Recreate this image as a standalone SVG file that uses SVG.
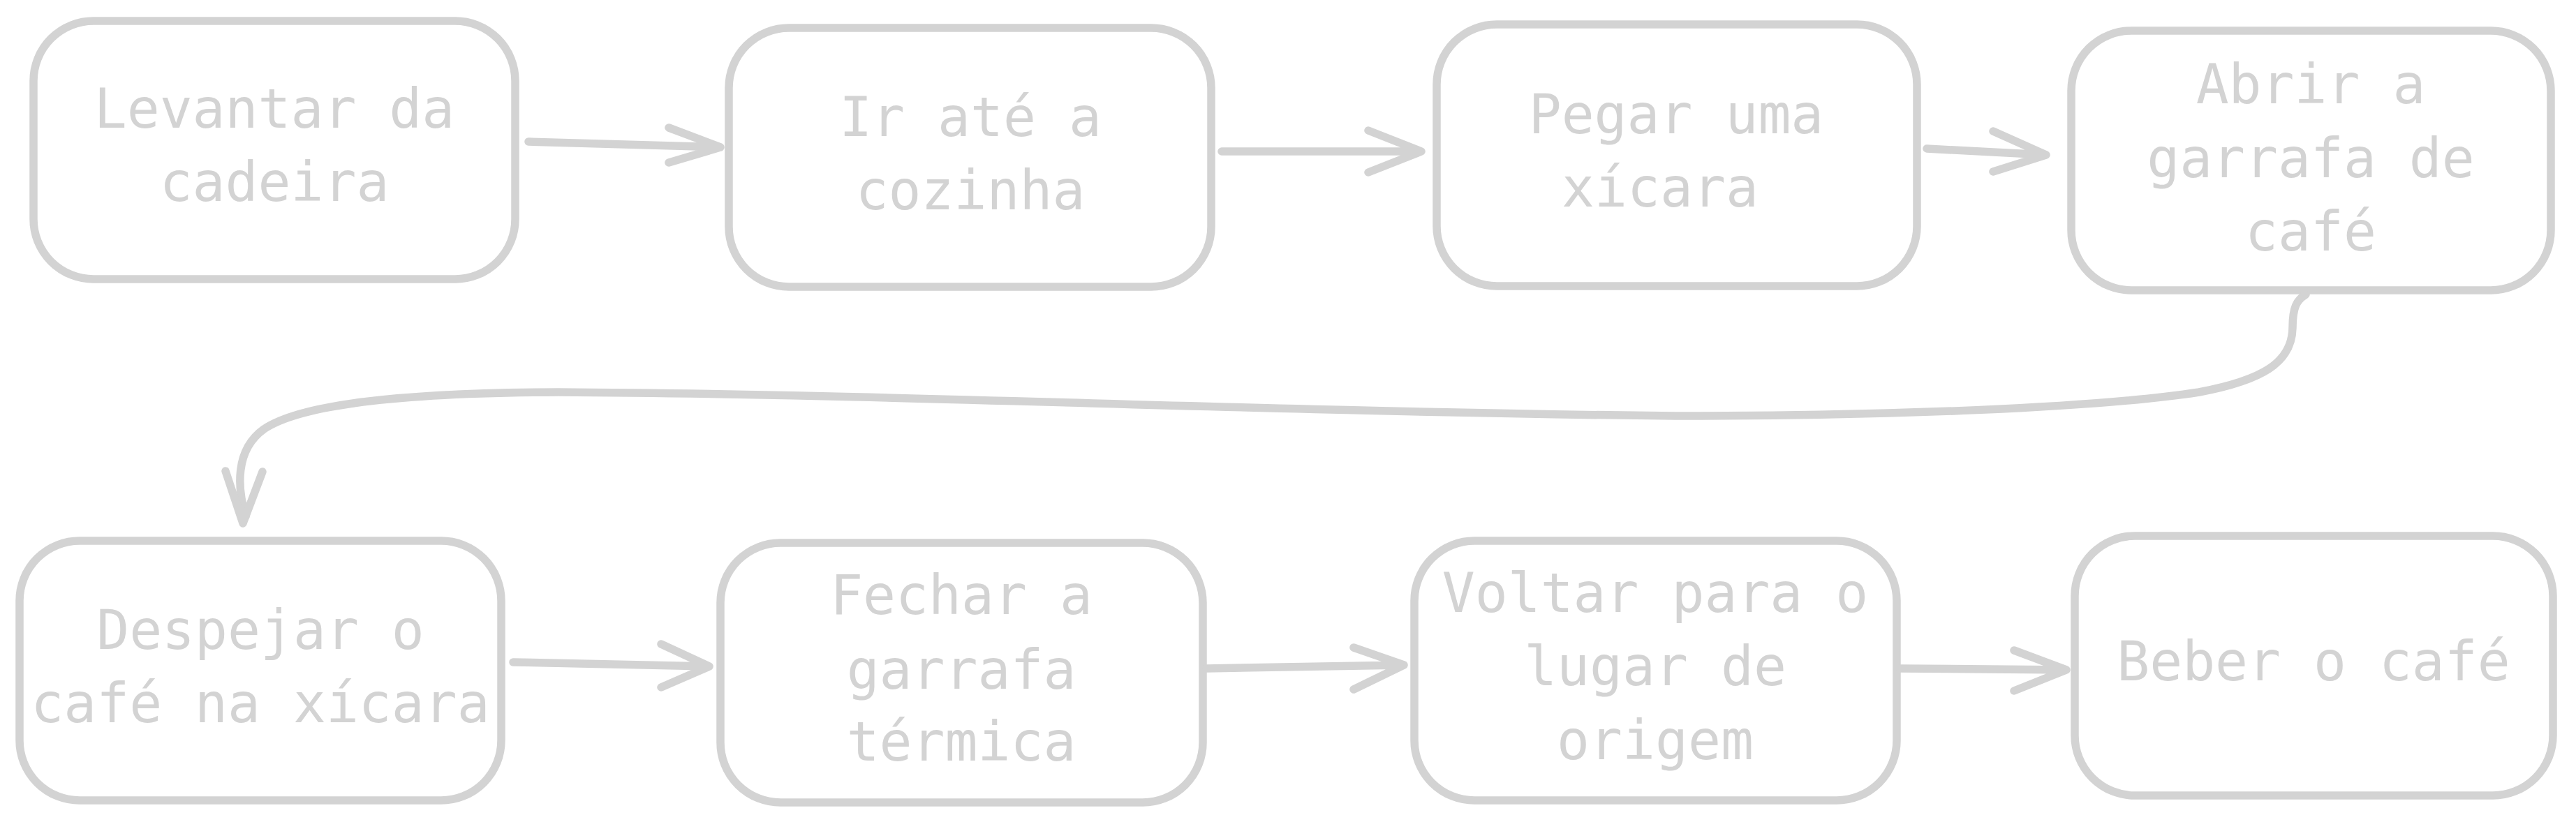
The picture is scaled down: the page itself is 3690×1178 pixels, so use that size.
<svg xmlns="http://www.w3.org/2000/svg" width="3690" height="1178" viewBox="0 0 3690 1178">
<style>
.box{fill:#ffffff;stroke:#d3d3d3;stroke-width:11.5}
.lbl{font-family:"DejaVu Sans Mono","Liberation Mono",monospace;font-size:78px;fill:#d3d3d3;text-anchor:middle}
.edge{fill:none;stroke:#d3d3d3;stroke-width:11.5;stroke-linecap:round;stroke-linejoin:round}
</style>
<rect width="3690" height="1178" fill="#ffffff"/>
<g id="n1"><rect class="box" x="48" y="30" width="690" height="370" rx="86"/><text class="lbl" x="393" y="183">Levantar da</text><text class="lbl" x="393" y="288">cadeira</text></g>
<g id="n2"><rect class="box" x="1044" y="40" width="691" height="371" rx="86"/><text class="lbl" x="1390" y="195">Ir até a</text><text class="lbl" x="1390" y="300">cozinha</text></g>
<g id="n3"><rect class="box" x="2058" y="35" width="688" height="375" rx="86"/><text class="lbl" x="2401" y="191">Pegar uma</text><text class="lbl" x="2378" y="296">xícara</text></g>
<g id="n4"><rect class="box" x="2967" y="44" width="687" height="372" rx="86"/><text class="lbl" x="3310" y="148">Abrir a</text><text class="lbl" x="3310" y="254">garrafa de</text><text class="lbl" x="3310" y="359">café</text></g>
<g id="n5"><rect class="box" x="28" y="775" width="690" height="372" rx="86"/><text class="lbl" x="373" y="930">Despejar o</text><text class="lbl" x="373" y="1035">café na xícara</text></g>
<g id="n6"><rect class="box" x="1032" y="778" width="691" height="372" rx="86"/><text class="lbl" x="1377" y="880">Fechar a</text><text class="lbl" x="1377" y="987">garrafa</text><text class="lbl" x="1377" y="1090">térmica</text></g>
<g id="n7"><rect class="box" x="2026" y="775" width="691" height="372" rx="86"/><text class="lbl" x="2371" y="877">Voltar para o</text><text class="lbl" x="2371" y="982">lugar de</text><text class="lbl" x="2371" y="1088">origem</text></g>
<g id="n8"><rect class="box" x="2972" y="768" width="685" height="372" rx="86"/><text class="lbl" x="3314" y="975">Beber o café</text></g>
<g id="edges">
<path class="edge" d="M757 203 L1032 211 M958 183 L1032 211 L958 233"/>
<path class="edge" d="M1750 217 L2036 217 M1960 187 L2036 217 L1960 247"/>
<path class="edge" d="M2760 213 L2931 222 M2855 188 L2931 222 L2855 246"/>
<path class="edge" d="M3303 422 C3290 430 3284 440 3284 470 C3283 520 3240 545 3150 562 C3000 585 2700 596 2400 596 C1800 590 1300 565 800 562 C570 563 430 580 378 615 C336 645 340 700 352 740"/>
<path class="edge" d="M323 675 L348 750 L376 676"/>
<path class="edge" d="M735 949 L1016 955 M947 923 L1016 955 L947 985"/>
<path class="edge" d="M1728 958 L2011 953 M1939 928 L2011 953 L1939 988"/>
<path class="edge" d="M2722 958 L2960 960 M2885 932 L2960 960 L2885 990"/>
</g>
</svg>
